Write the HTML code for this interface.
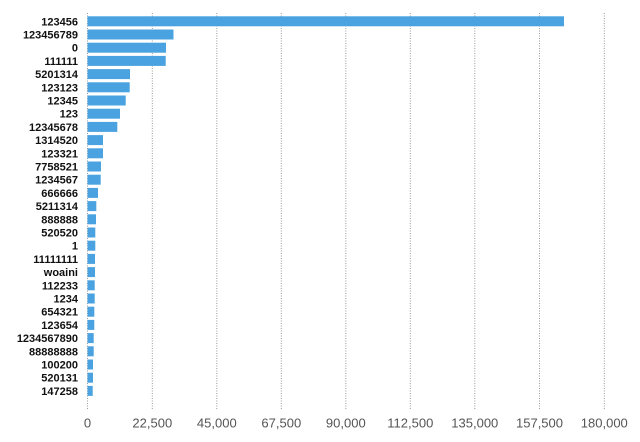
<!DOCTYPE html>
<html><head><meta charset="utf-8"><style>
html,body{margin:0;padding:0;background:#fff;}
svg{display:block;}
</style></head><body>
<svg width="640" height="442" viewBox="0 0 640 442" xmlns="http://www.w3.org/2000/svg">
<rect width="640" height="442" fill="#fff"/>
<g stroke="#9a9a9a" stroke-width="1" stroke-dasharray="1,1.5">
<line x1="87.5" y1="13" x2="87.5" y2="410"/>
<line x1="152.3" y1="13" x2="152.3" y2="410"/>
<line x1="216.8" y1="13" x2="216.8" y2="410"/>
<line x1="281.3" y1="13" x2="281.3" y2="410"/>
<line x1="345.8" y1="13" x2="345.8" y2="410"/>
<line x1="410.3" y1="13" x2="410.3" y2="410"/>
<line x1="474.8" y1="13" x2="474.8" y2="410"/>
<line x1="539.5" y1="13" x2="539.5" y2="410"/>
<line x1="604.3" y1="13" x2="604.3" y2="410"/>
</g>
<g fill="#4aa3e0">
<rect x="87.5" y="16.3" width="476.5" height="10"/>
<rect x="87.5" y="29.5" width="86" height="10"/>
<rect x="87.5" y="42.7" width="78.5" height="10"/>
<rect x="87.5" y="55.9" width="78.2" height="10"/>
<rect x="87.5" y="69.1" width="42.5" height="10"/>
<rect x="87.5" y="82.3" width="42.2" height="10"/>
<rect x="87.5" y="95.5" width="38.2" height="10"/>
<rect x="87.5" y="108.7" width="32.5" height="10"/>
<rect x="87.5" y="121.9" width="29.8" height="10"/>
<rect x="87.5" y="135.1" width="15.5" height="10"/>
<rect x="87.5" y="148.3" width="15.5" height="10"/>
<rect x="87.5" y="161.5" width="13.5" height="10"/>
<rect x="87.5" y="174.7" width="13.2" height="10"/>
<rect x="87.5" y="187.9" width="10.5" height="10"/>
<rect x="87.5" y="201.1" width="8.8" height="10"/>
<rect x="87.5" y="214.3" width="8.5" height="10"/>
<rect x="87.5" y="227.5" width="7.8" height="10"/>
<rect x="87.5" y="240.7" width="7.8" height="10"/>
<rect x="87.5" y="253.9" width="7.5" height="10"/>
<rect x="87.5" y="267.1" width="7.5" height="10"/>
<rect x="87.5" y="280.3" width="7.2" height="10"/>
<rect x="87.5" y="293.5" width="7.2" height="10"/>
<rect x="87.5" y="306.7" width="6.8" height="10"/>
<rect x="87.5" y="319.9" width="6.8" height="10"/>
<rect x="87.5" y="333.1" width="6.2" height="10"/>
<rect x="87.5" y="346.3" width="6.2" height="10"/>
<rect x="87.5" y="359.5" width="5.5" height="10"/>
<rect x="87.5" y="372.7" width="5.5" height="10"/>
<rect x="87.5" y="385.9" width="5.2" height="10"/>
</g>
<g font-family="Liberation Sans, sans-serif" font-size="11" font-weight="bold" fill="#111" text-anchor="end">
<text x="78" y="25.3">123456</text>
<text x="78" y="38.5">123456789</text>
<text x="78" y="51.7">0</text>
<text x="78" y="64.9">111111</text>
<text x="78" y="78.1">5201314</text>
<text x="78" y="91.3">123123</text>
<text x="78" y="104.5">12345</text>
<text x="78" y="117.7">123</text>
<text x="78" y="130.9">12345678</text>
<text x="78" y="144.1">1314520</text>
<text x="78" y="157.3">123321</text>
<text x="78" y="170.5">7758521</text>
<text x="78" y="183.7">1234567</text>
<text x="78" y="196.9">666666</text>
<text x="78" y="210.1">5211314</text>
<text x="78" y="223.3">888888</text>
<text x="78" y="236.5">520520</text>
<text x="78" y="249.7">1</text>
<text x="78" y="262.9">11111111</text>
<text x="78" y="276.1">woaini</text>
<text x="78" y="289.3">112233</text>
<text x="78" y="302.5">1234</text>
<text x="78" y="315.7">654321</text>
<text x="78" y="328.9">123654</text>
<text x="78" y="342.1">1234567890</text>
<text x="78" y="355.3">88888888</text>
<text x="78" y="368.5">100200</text>
<text x="78" y="381.7">520131</text>
<text x="78" y="394.9">147258</text>
</g>
<g font-family="Liberation Sans, sans-serif" font-size="13" fill="#555" text-anchor="middle">
<text x="87.5" y="427.5">0</text>
<text x="152.3" y="427.5">22,500</text>
<text x="216.8" y="427.5">45,000</text>
<text x="281.3" y="427.5">67,500</text>
<text x="345.8" y="427.5">90,000</text>
<text x="410.3" y="427.5">112,500</text>
<text x="474.8" y="427.5">135,000</text>
<text x="539.5" y="427.5">157,500</text>
<text x="604.3" y="427.5">180,000</text>
</g>
</svg>
</body></html>
